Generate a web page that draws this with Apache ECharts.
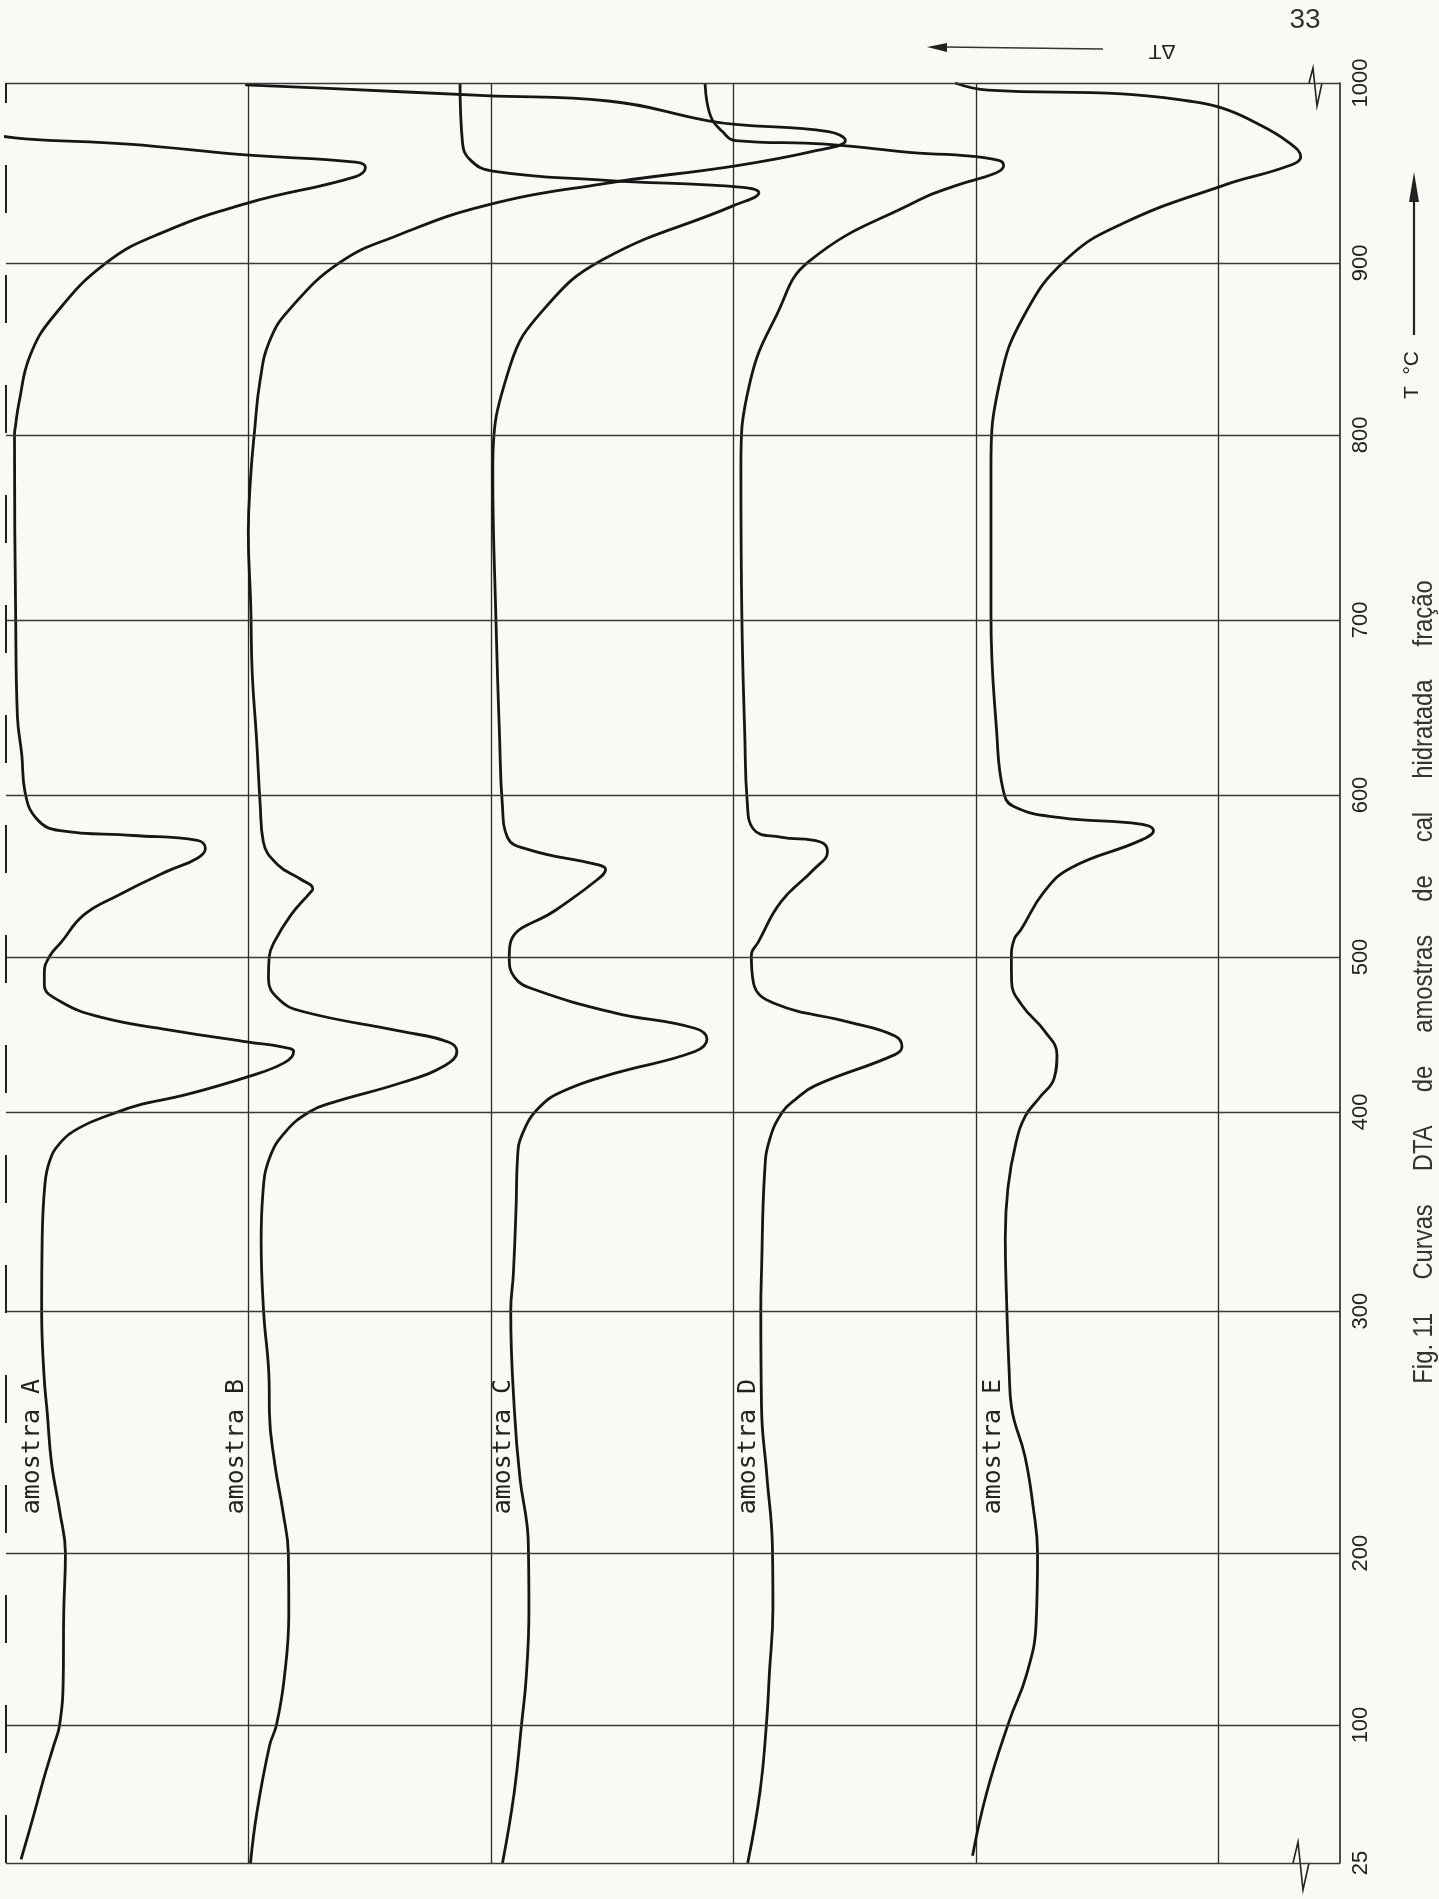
<!DOCTYPE html>
<html><head><meta charset="utf-8">
<script src="https://cdn.jsdelivr.net/npm/echarts@6/dist/echarts.min.js"></script>
<style>html,body{margin:0;padding:0;background:#fafaf4}#c{width:1439px;height:1899px}</style>
</head><body><div id="c"></div>
<script>
// Temperature marks printed on the recording (°C) and where each mark falls along the chart (chart units)
const tempMarks = [25, 100, 200, 300, 400, 500, 600, 700, 800, 900, 1000];
const tempMarkPos = [0, 5.69, 12.78, 22.76, 30.97, 37.36, 44.04, 51.26, 58.89, 65.98, 73.40];
const sampleNames = ['amostra A', 'amostra B', 'amostra C', 'amostra D', 'amostra E'];
const captionText = 'Fig. 11     Curvas     DTA     de     amostras     de     cal     hidratada     fração';

// Each curve: [temperature °C, pen position (chart units, 10 per division)]
const curveA = [[27,0.62],[48,1.08],[71,1.56],[89,1.97],[100,2.21],[127,2.36],[165,2.38],[200,2.45],[217,2.22],[237,1.88],[258,1.70],[273,1.57],[300,1.47],[335,1.49],[363,1.60],[375,1.79],[384,2.20],[392,3.02],[399,4.38],[405,5.61],[411,7.38],[423,10.02],[432,11.50],[439,11.86],[442,11.37],[445,10.01],[453,6.70],[461,3.94],[471,2.28],[482,1.58],[490,1.58],[500,1.78],[509,2.27],[526,3.21],[538,4.61],[553,6.66],[561,7.89],[567,8.22],[572,7.89],[575,5.25],[578,2.23],[585,1.28],[602,0.78],[623,0.65],[645,0.47],[700,0.40],[800,0.35],[805,0.39],[819,0.54],[846,0.99],[869,1.96],[900,4.13],[917,6.47],[933,9.89],[948,14.42],[953,14.82],[956,14.41],[960,9.87],[966,5.04],[969,0.80],[971,-0.44]];
const curveB = [[25,10.08],[53,10.35],[89,10.87],[100,11.15],[127,11.47],[165,11.66],[200,11.64],[217,11.42],[237,11.08],[258,10.86],[270,10.85],[300,10.62],[335,10.52],[359,10.59],[377,10.87],[390,11.52],[400,12.50],[406,13.45],[419,16.33],[430,18.10],[439,18.59],[445,18.26],[452,16.32],[465,12.19],[473,11.23],[486,10.82],[500,10.85],[509,11.05],[526,11.75],[540,12.56],[542,12.65],[548,12.15],[557,11.20],[571,10.61],[594,10.48],[632,10.33],[670,10.15],[708,10.09],[747,9.99],[778,10.09],[801,10.24],[832,10.48],[855,10.88],[873,11.69],[900,13.74],[915,16.08],[932,19.79],[944,24.61],[954,30.08],[962,33.26],[968,34.61],[973,33.91],[977,30.07],[979,28.96],[990,24.83],[993,19.76],[997,13.28],[999,9.86]];
const curveC = [[25,20.47],[63,20.95],[101,21.26],[128,21.45],[167,21.56],[201,21.54],[211,21.49],[231,21.19],[259,20.96],[300,20.81],[319,20.92],[352,21.03],[377,21.09],[389,21.29],[403,21.99],[414,23.05],[425,25.11],[439,28.40],[447,28.90],[454,28.40],[464,25.09],[479,21.79],[487,20.96],[500,20.75],[510,20.82],[529,22.67],[548,24.40],[554,24.72],[557,24.39],[566,21.62],[574,20.67],[595,20.46],[633,20.35],[700,20.20],[781,20.07],[840,20.78],[873,22.17],[902,24.63],[932,30.02],[939,31.04],[942,30.38],[946,24.60],[951,20.07],[957,19.16],[967,18.82],[1000,18.72]];
const curveD = [[25,30.58],[64,31.09],[102,31.36],[129,31.47],[168,31.62],[202,31.60],[232,31.37],[260,31.15],[301,31.12],[320,31.15],[370,31.28],[386,31.48],[400,32.01],[408,32.54],[417,33.36],[437,36.65],[442,36.94],[449,36.65],[458,34.75],[470,31.69],[483,30.82],[501,30.73],[509,31.01],[534,31.95],[554,33.30],[565,33.87],[571,33.58],[574,31.93],[579,30.81],[596,30.56],[634,30.46],[701,30.34],[782,30.30],[831,30.68],[870,31.78],[901,33.12],[935,37.64],[943,39.16],[950,40.81],[954,41.13],[957,40.93],[960,39.15],[961,37.63],[966,33.79],[968,30.08],[973,29.54],[982,29.04],[1000,28.82]];
const curveE = [[29,39.85],[64,40.45],[103,41.38],[129,42.07],[159,42.47],[200,42.53],[219,42.35],[240,42.01],[260,41.46],[275,41.36],[303,41.26],[337,41.20],[362,41.31],[384,41.63],[398,42.03],[409,42.60],[422,43.22],[437,43.33],[452,42.83],[469,41.88],[484,41.46],[499,41.45],[511,41.57],[517,41.85],[540,42.79],[555,43.90],[572,46.78],[578,47.31],[582,46.77],[586,43.47],[593,41.53],[603,41.11],[635,40.85],[702,40.61],[783,40.61],[832,40.99],[869,41.96],[902,43.72],[922,46.06],[943,50.17],[954,52.89],[959,53.38],[967,52.88],[978,51.51],[986,50.15],[990,48.75],[994,46.02],[996,40.50],[1000,39.13]];
const curves = [curveA, curveB, curveC, curveD, curveE];

// temperature -> position along the recording (piecewise, from the printed temperature marks)
function posOf(t) {
  for (let i = 1; i < tempMarks.length; i++) {
    if (t <= tempMarks[i] || i === tempMarks.length - 1) {
      const f = (t - tempMarks[i - 1]) / (tempMarks[i] - tempMarks[i - 1]);
      return tempMarkPos[i - 1] + f * (tempMarkPos[i] - tempMarkPos[i - 1]);
    }
  }
}
function tempAt(v) {
  for (let i = 0; i < tempMarkPos.length; i++) if (Math.abs(tempMarkPos[i] - v) < 1e-6) return String(tempMarks[i]);
  return '';
}

const ink = '#161616';
const series = [{
  type: 'line', data: [], z: 1, silent: true,
  markLine: {
    symbol: 'none', silent: true, animation: false, label: { show: false },
    lineStyle: { color: '#3a3a3a', width: 1.3, type: 'solid' },
    data: tempMarkPos.map(p => ({ yAxis: p })).concat([{ xAxis: 0, lineStyle: { type: [48, 62], width: 2, color: '#222' } }])
  }
}].concat(curves.map((c, i) => ({
  name: sampleNames[i], type: 'line', z: 3, silent: true, showSymbol: false, smooth: 0.45,
  data: c.map(([t, u]) => [u, posOf(t)]),
  lineStyle: { color: ink, width: 2.8 }
})));

const option = {
  backgroundColor: '#fafaf4',
  animation: false,
  textStyle: { fontFamily: 'Liberation Sans' },
  grid: { left: 6, right: 99, top: 83, bottom: 36, containLabel: false, outerBoundsMode: 'none' },
  xAxis: {
    type: 'value', min: 0, max: 55, interval: 10,
    axisLine: { show: false }, axisTick: { show: false }, axisLabel: { show: false },
    splitLine: { show: true, showMinLine: false, showMaxLine: false, lineStyle: { color: '#2a2a2a', width: 1.3 } }
  },
  yAxis: {
    type: 'value', min: 0, max: 73.4, position: 'right',
    axisLine: { show: true, onZero: false, lineStyle: { color: '#222', width: 1.6 } },
    axisTick: { show: false }, splitLine: { show: false },
    axisLabel: {
      customValues: tempMarkPos, formatter: v => tempAt(v), rotate: 90, margin: 10,
      fontSize: 22, fontFamily: 'Liberation Sans', color: '#222'
    }
  },
  series: series
};

const chart = echarts.init(document.getElementById('c'));
chart.setOption(option);

const px = (u, t) => chart.convertToPixel({ xAxisIndex: 0, yAxisIndex: 0 }, [u, posOf(t)]);
const labelU = [1.1, 9.5, 20.5, 30.6, 40.7];
const g = [];
sampleNames.forEach((n, i) => {
  const p = px(labelU[i], 244);
  g.push({ type: 'text', x: p[0], y: p[1], rotation: Math.PI / 2, silent: true,
    style: { text: n, font: "25px 'DejaVu Sans Mono'", fill: '#222', align: 'center', verticalAlign: 'middle', textAlign: 'center', textVerticalAlign: 'middle' } });
});
// axis break marks
const tr = px(55, 1000), br = px(55, 25);
g.push({ type: 'polyline', silent: true, shape: { points: [[tr[0]-31, tr[1]], [tr[0]-27, tr[1]-15], [tr[0]-23, tr[1]+23], [tr[0]-18, tr[1]]] }, style: { stroke: '#222', lineWidth: 1.6, fill: null } });
g.push({ type: 'polyline', silent: true, shape: { points: [[br[0]-47, br[1]], [br[0]-42, br[1]-21], [br[0]-37, br[1]+27], [br[0]-31, br[1]]] }, style: { stroke: '#222', lineWidth: 1.6, fill: null } });
// page number
g.push({ type: 'text', x: 1305, y: 20, silent: true, style: { text: '33', font: "28px 'Liberation Sans'", fill: '#333', align: 'center', verticalAlign: 'middle', textAlign: 'center', textVerticalAlign: 'middle' } });
// ΔT label and arrow
g.push({ type: 'text', x: 1162, y: 51, rotation: Math.PI, silent: true, style: { text: 'ΔT', font: "21px 'Liberation Sans'", fill: '#222', align: 'center', verticalAlign: 'middle', textAlign: 'center', textVerticalAlign: 'middle' } });
g.push({ type: 'line', silent: true, shape: { x1: 1103, y1: 49, x2: 944, y2: 47 }, style: { stroke: '#333', lineWidth: 1.6 } });
g.push({ type: 'polygon', silent: true, shape: { points: [[927, 47], [947, 43], [947, 52]] }, style: { fill: '#222' } });
// T °C label and arrow
g.push({ type: 'text', x: 1412, y: 375, rotation: Math.PI / 2, silent: true, style: { text: 'T  °C', font: "21px 'Liberation Sans'", fill: '#222', align: 'center', verticalAlign: 'middle', textAlign: 'center', textVerticalAlign: 'middle' } });
g.push({ type: 'line', silent: true, shape: { x1: 1414, y1: 335, x2: 1414, y2: 196 }, style: { stroke: '#222', lineWidth: 2.2 } });
g.push({ type: 'polygon', silent: true, shape: { points: [[1414, 172], [1409, 202], [1419, 202]] }, style: { fill: '#222' } });
// caption
g.push({ type: 'text', x: 1424, y: 982, rotation: Math.PI / 2, scaleX: 0.85, silent: true, style: { text: captionText, font: "28px 'Liberation Sans'", fill: '#333', align: 'center', verticalAlign: 'middle', textAlign: 'center', textVerticalAlign: 'middle' } });
chart.setOption({ graphic: g });
</script>
</body></html>
